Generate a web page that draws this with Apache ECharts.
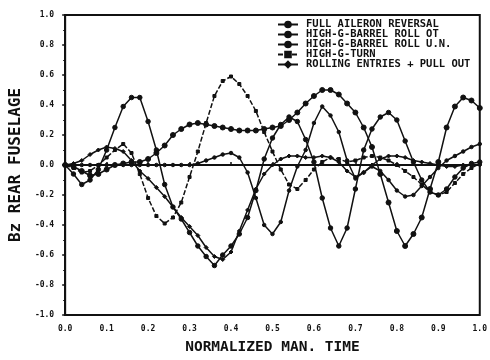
<!DOCTYPE html>
<html>
<head>
<meta charset="utf-8">
<script src="https://cdn.jsdelivr.net/npm/echarts@6/dist/echarts.min.js"></script>
<style>
  html, body { margin: 0; padding: 0; background: #fff; }
  #chart { width: 490px; height: 360px; }
</style>
</head>
<body>
<div id="chart"></div>
<script>
// Normalized manoeuvre time samples
const times = [0.00, 0.02, 0.04, 0.06, 0.08, 0.10, 0.12, 0.14, 0.16, 0.18,
               0.20, 0.22, 0.24, 0.26, 0.28, 0.30, 0.32, 0.34, 0.36, 0.38,
               0.40, 0.42, 0.44, 0.46, 0.48, 0.50, 0.52, 0.54, 0.56, 0.58,
               0.60, 0.62, 0.64, 0.66, 0.68, 0.70, 0.72, 0.74, 0.76, 0.78,
               0.80, 0.82, 0.84, 0.86, 0.88, 0.90, 0.92, 0.94, 0.96, 0.98, 1.00];

const seriesNames = ["FULL AILERON REVERSAL", "HIGH-G-BARREL ROLL OT",
                     "HIGH-G-BARREL ROLL U.N.", "HIGH-G-TURN",
                     "ROLLING ENTRIES + PULL OUT"];

// Bz at the rear fuselage for each manoeuvre
const aileronReversal = [0.00, -0.06, -0.13, -0.10, -0.03, 0.10, 0.25, 0.39, 0.45, 0.45,
                         0.29, 0.10, -0.13, -0.28, -0.36, -0.45, -0.54, -0.61, -0.67, -0.60,
                         -0.54, -0.46, -0.35, -0.17, 0.04, 0.18, 0.27, 0.32, 0.29, 0.17,
                         0.02, -0.22, -0.42, -0.54, -0.42, -0.16, 0.10, 0.24, 0.32, 0.35,
                         0.30, 0.16, 0.02, -0.10, -0.18, -0.20, -0.16, -0.08, -0.02, 0.01, 0.02];
const barrelRollOT = [0.00, -0.01, -0.04, -0.07, -0.06, -0.03, 0.00, 0.01, 0.02, 0.02,
                      0.04, 0.08, 0.13, 0.20, 0.24, 0.27, 0.28, 0.27, 0.26, 0.25,
                      0.24, 0.23, 0.23, 0.23, 0.24, 0.25, 0.26, 0.30, 0.35, 0.41,
                      0.46, 0.50, 0.50, 0.47, 0.41, 0.35, 0.25, 0.12, -0.06, -0.25,
                      -0.44, -0.54, -0.46, -0.35, -0.16, 0.02, 0.25, 0.39, 0.45, 0.43, 0.38];
const barrelRollUN = [0.00, 0.00, 0.00, 0.00, 0.00, 0.00, 0.00, 0.00, 0.00, 0.00,
                      0.00, 0.00, 0.00, 0.00, 0.00, 0.00, 0.01, 0.03, 0.05, 0.07,
                      0.08, 0.05, -0.05, -0.22, -0.40, -0.46, -0.38, -0.17, -0.01, 0.10,
                      0.28, 0.39, 0.33, 0.22, 0.03, -0.09, -0.05, -0.01, -0.04, -0.10,
                      -0.17, -0.21, -0.20, -0.14, -0.08, -0.02, 0.03, 0.06, 0.09, 0.12, 0.14];
const highGTurn = [0.00, -0.02, -0.05, -0.04, 0.00, 0.05, 0.10, 0.14, 0.08, -0.06,
                   -0.22, -0.34, -0.39, -0.35, -0.25, -0.08, 0.09, 0.28, 0.46, 0.56,
                   0.59, 0.54, 0.46, 0.36, 0.22, 0.09, -0.03, -0.13, -0.16, -0.10,
                   -0.03, 0.02, 0.05, 0.04, 0.02, 0.03, 0.05, 0.06, 0.05, 0.03,
                   0.00, -0.04, -0.08, -0.13, -0.18, -0.20, -0.18, -0.12, -0.06, -0.02, 0.01];
const rollingEntries = [0.00, 0.01, 0.03, 0.07, 0.10, 0.12, 0.11, 0.09, 0.03, -0.04,
                        -0.09, -0.15, -0.21, -0.28, -0.35, -0.41, -0.47, -0.55, -0.61, -0.63,
                        -0.58, -0.44, -0.30, -0.16, -0.06, 0.00, 0.04, 0.06, 0.06, 0.05,
                        0.05, 0.06, 0.05, 0.02, -0.04, -0.08, -0.05, 0.00, 0.04, 0.06,
                        0.06, 0.05, 0.03, 0.02, 0.01, 0.00, -0.01, -0.01, 0.00, 0.00, 0.00];

const ink = '#111';
const plotFont = 'DejaVu Sans Mono';

function pairs(values) {
  return times.map((t, i) => [t, values[i]]);
}

function makeSeries(name, values, symbol, size, dashed) {
  return {
    name: name,
    type: 'line',
    data: pairs(values),
    symbol: symbol,
    symbolSize: size,
    showSymbol: true,
    color: ink,
    itemStyle: { color: ink, borderColor: ink, borderWidth: 1 },
    lineStyle: { color: ink, width: 1.5, type: dashed ? [5, 2] : 'solid' },
    emphasis: { disabled: true },
    z: 3
  };
}

const chart = echarts.init(document.getElementById('chart'), null, { renderer: 'canvas' });

chart.setOption({
  animation: false,
  backgroundColor: '#fff',
  grid: {
    left: 63, right: 7, top: 15, bottom: 39,
    show: true, borderColor: ink, borderWidth: 2, backgroundColor: 'transparent'
  },
  legend: {
    orient: 'vertical',
    left: 272, top: 14,
    itemWidth: 20, itemHeight: 7, itemGap: -1,
    textStyle: { fontFamily: plotFont, fontWeight: 'bold', fontSize: 10.5, color: ink,
                 lineHeight: 9, padding: [0, 0, 0, 3] },
    data: seriesNames
  },
  xAxis: {
    type: 'value', min: 0, max: 1, interval: 0.1,
    name: 'NORMALIZED MAN. TIME', nameLocation: 'middle', nameGap: 25,
    nameTextStyle: { fontFamily: plotFont, fontWeight: 'bold', fontSize: 14.5, color: ink },
    axisLine: { show: true, lineStyle: { color: ink, width: 2 } },
    axisTick: { show: true, inside: true, length: 3, lineStyle: { color: ink, width: 1.5 } },
    axisLabel: { fontFamily: plotFont, fontWeight: 'bold', fontSize: 8, color: ink, margin: 10,
                 formatter: v => v.toFixed(1) },
    splitLine: { show: false }
  },
  yAxis: {
    type: 'value', min: -1, max: 1, interval: 0.2,
    name: 'Bz REAR FUSELAGE', nameLocation: 'middle', nameGap: 33, nameRotate: 90,
    nameTextStyle: { fontFamily: plotFont, fontWeight: 'bold', fontSize: 16, color: ink },
    axisLine: { show: true, lineStyle: { color: ink, width: 2 } },
    axisTick: { show: true, inside: false, length: 3, lineStyle: { color: ink, width: 1.5 } },
    minorTick: { show: true, splitNumber: 2, length: 2, lineStyle: { color: ink } },
    axisLabel: { fontFamily: plotFont, fontWeight: 'bold', fontSize: 8, color: ink, margin: 11,
                 formatter: v => v.toFixed(1) },
    splitLine: { show: false }
  },
  series: [
    makeSeries(seriesNames[0], aileronReversal, 'circle', 4.5, false),
    makeSeries(seriesNames[1], barrelRollOT, 'circle', 5, false),
    makeSeries(seriesNames[2], barrelRollUN, 'circle', 3.5, false),
    makeSeries(seriesNames[3], highGTurn, 'rect', 3, true),
    makeSeries(seriesNames[4], rollingEntries, 'diamond', 4, false)
  ]
});
</script>
</body>
</html>
